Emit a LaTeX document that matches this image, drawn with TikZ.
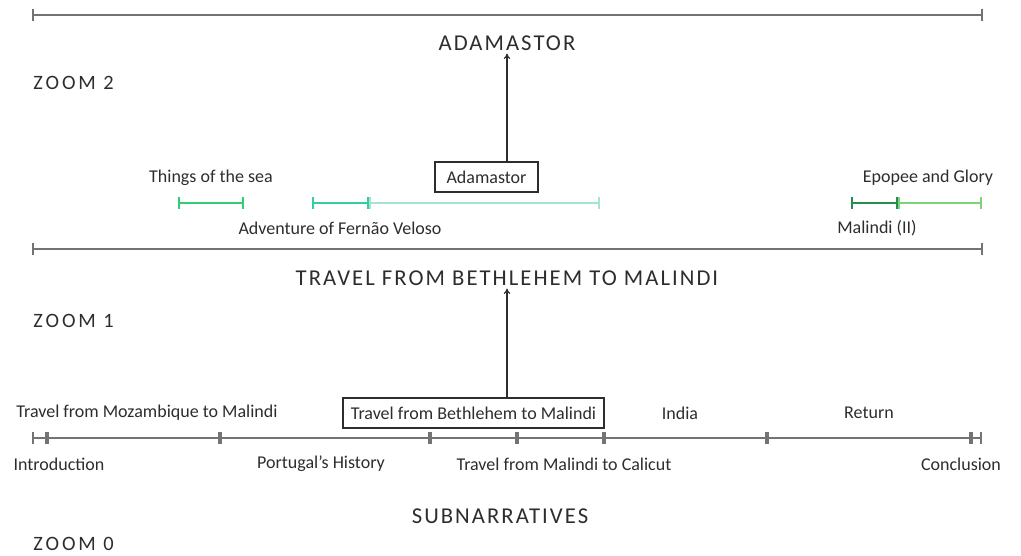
\documentclass[tikz,border=0pt]{standalone}
\usepackage{fontspec}
\setmainfont{Carlito}
\newfontfamily\headfont[LetterSpace=9]{Carlito}
\newfontfamily\zoomfont[LetterSpace=14]{Carlito}
\usepackage{tikz}
\usetikzlibrary{arrows.meta}
\definecolor{lineg}{RGB}{115,115,115}
\definecolor{textg}{RGB}{45,45,45}
\definecolor{seagreen}{RGB}{50,205,115}
\definecolor{velosoteal}{RGB}{50,205,160}
\definecolor{velosolight}{RGB}{165,228,212}
\definecolor{malgreen}{RGB}{40,140,80}
\definecolor{epgreen}{RGB}{125,212,120}
\tikzset{every picture/.style={line width=0.75pt},
  axis/.style={draw=lineg, line width=1.6pt},
  endbar/.style={draw=lineg, line width=1.1pt},
  midbar/.style={draw=lineg, line width=3pt},
  span/.style={line width=1.6pt, {Bar[width=9pt,line width=1.4pt]}-{Bar[width=9pt,line width=1.4pt]}},
  lbl/.style={text=textg, inner sep=0.75pt, font=\fontsize{13.5}{16}\selectfont},
  zoomlbl/.style={text=textg, inner sep=0.75pt, anchor=west, font=\zoomfont\fontsize{15.3}{18}\selectfont},
  headlbl/.style={text=textg, inner sep=2pt, font=\headfont\fontsize{17}{20}\selectfont},
  boxlbl/.style={lbl, draw=textg, line width=0.9pt, minimum height=22.5pt},
  uparrow/.style={draw=textg, line width=0.9pt, -{To[length=4pt,width=5pt]}}
}

\begin{document}
\begin{tikzpicture}[x=0.75pt,y=0.75pt,yscale=-1,xscale=1]
\useasboundingbox (0,0) rectangle (1021,556);

%%% Zoom 2
%Straight Lines
\coordinate (za) at (33,15);
\coordinate (zb) at (982,15);
\draw [axis] (za) -- (zb) ;
\draw [endbar] (za) ++(0,-6) -- ++(0,12) ;
\draw [endbar] (zb) ++(0,-6) -- ++(0,12) ;

% Text Node
\node [headlbl] (adahead) at (507,43) {ADAMASTOR};
% Text Node
\node [zoomlbl] (zoomtwo) at (32,83) {ZOOM 2};

%Segments
\coordinate (sea1) at (178,203);
\coordinate (sea2) at (244,203);
\coordinate (vel1) at (312,203);
\coordinate (vel2) at (369,203);
\coordinate (vel3) at (600,203);
\coordinate (mal1) at (851,203);
\coordinate (mal2) at (898,203);
\coordinate (epo2) at (982,203);
\draw [span, seagreen] (sea1) -- (sea2) ;
\draw [span, velosolight] (vel2) -- (vel3) ;
\draw [span, velosoteal] (vel1) -- (vel2) ;
\draw [span, epgreen] (mal2) -- (epo2) ;
\draw [span, malgreen] (mal1) -- (mal2) ;

% Text Node
\node [lbl] (sea) at (211,178) {Things of the sea};
% Text Node
\node [lbl] (veloso) at (340,228) {Adventure of Fernão Veloso};
% Text Node
\node [boxlbl, minimum width=77.25pt] (adabox) at (486.5,177) {Adamastor};
% Text Node
\node [lbl] (epopee) at (928,178) {Epopee and Glory};
% Text Node
\node [lbl] (malindi) at (877,228) {Malindi (II)};

\draw [uparrow] (adabox.north -| adahead.south) -- (adahead.south) ;

%%% Zoom 1
%Straight Lines
\coordinate (ya) at (33,249);
\coordinate (yb) at (982,249);
\draw [axis] (ya) -- (yb) ;
\draw [endbar] (ya) ++(0,-6) -- ++(0,12) ;
\draw [endbar] (yb) ++(0,-6) -- ++(0,12) ;

% Text Node
\node [headlbl] (trhead) at (507,278) {TRAVEL FROM BETHLEHEM TO MALINDI};
% Text Node
\node [zoomlbl] (zoomone) at (32,321) {ZOOM 1};

%%% Zoom 0
%Straight Lines
\coordinate (t0) at (33,438);
\coordinate (t1) at (47,438);
\coordinate (t2) at (220,438);
\coordinate (t3) at (430,438);
\coordinate (t4) at (517,438);
\coordinate (t5) at (604,438);
\coordinate (t6) at (767,438);
\coordinate (t7) at (971,438);
\coordinate (t8) at (981,438);
\draw [axis] (t0) -- (t8) ;
\draw [endbar] (t0) ++(0,-6) -- ++(0,12) ;
\draw [endbar] (t8) ++(0,-6) -- ++(0,12) ;
\foreach \t in {t1,t2,t3,t4,t5,t6,t7}
  \draw [midbar] (\t) ++(0,-6) -- ++(0,12) ;

% Text Node
\node [lbl] (mozamb) at (147,413) {Travel from Mozambique to Malindi};
% Text Node
\node [boxlbl, minimum width=195.75pt] (bethbox) at (473.5,413) {Travel from Bethlehem to Malindi};
% Text Node
\node [lbl] (india) at (680,413) {India};
% Text Node
\node [lbl] (return) at (869,413) {Return};
% Text Node
\node [lbl] (intro) at (59,464) {Introduction};
% Text Node
\node [lbl] (history) at (321,464) {Portugal’s History};
% Text Node
\node [lbl] (calicut) at (564,464) {Travel from Malindi to Calicut};
% Text Node
\node [lbl] (concl) at (961,464) {Conclusion};

\draw [uparrow] (bethbox.north -| trhead.south) -- (trhead.south) ;

% Text Node
\node [headlbl] (subnar) at (500,516) {SUBNARRATIVES};
% Text Node
\node [zoomlbl] (zoomzero) at (32,544) {ZOOM 0};

\end{tikzpicture}
\end{document}
